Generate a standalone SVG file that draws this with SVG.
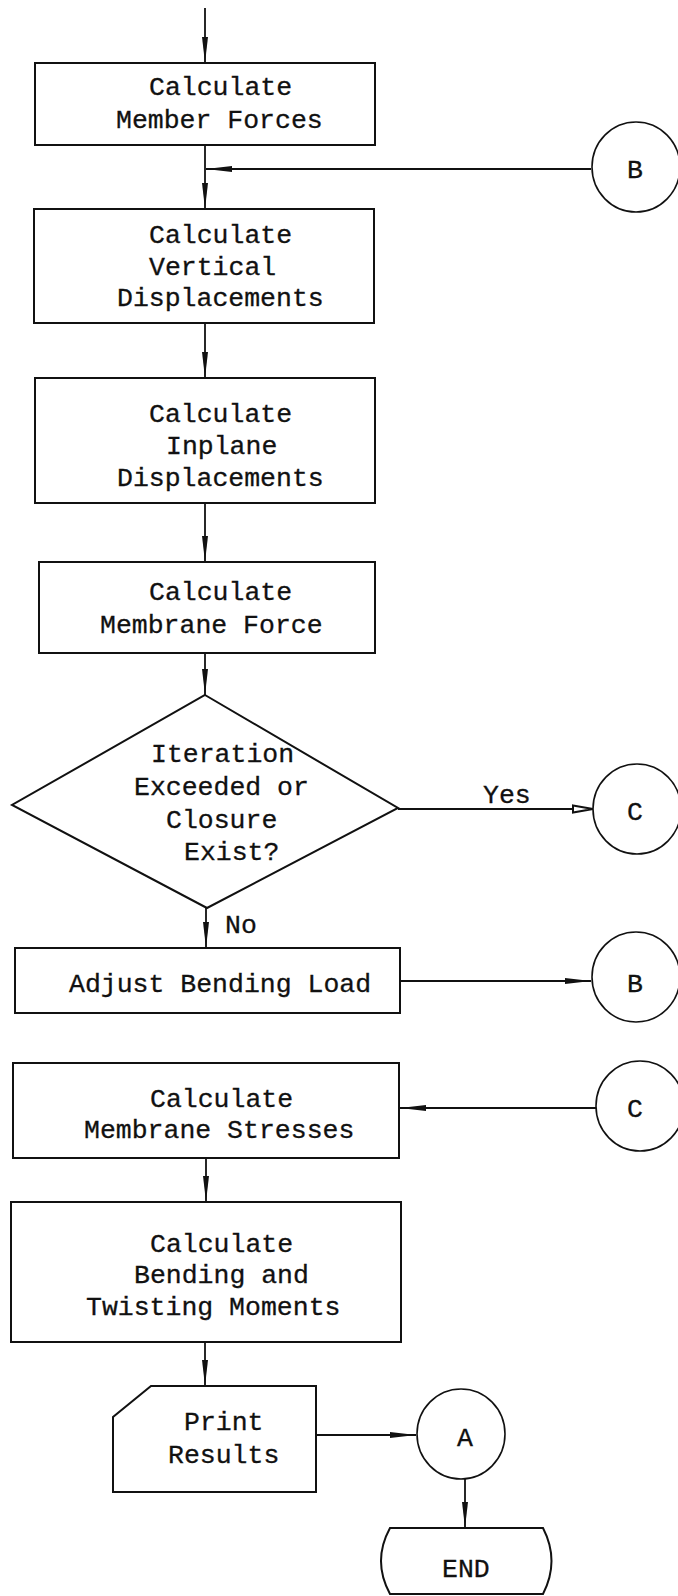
<svg xmlns="http://www.w3.org/2000/svg" width="678" height="1596" viewBox="0 0 678 1596">
<style>
.s{fill:none;stroke:#111;stroke-width:2}
.c{fill:#fff;stroke:#111;stroke-width:1.6}
.t{font-family:"Liberation Mono",monospace;font-size:26.5px;fill:#111;stroke:#111;stroke-width:0.3}
.l{fill:none;stroke:#111;stroke-width:1.8}
</style>
<defs>
<marker id="ahl" viewBox="0 0 26 8" refX="26" refY="4" markerWidth="26" markerHeight="8" markerUnits="userSpaceOnUse" orient="auto"><path d="M0,1 L26,4 L0,7 Z" fill="#111"/></marker>
<marker id="aho" viewBox="0 0 22 10" refX="21" refY="5" markerWidth="22" markerHeight="10" markerUnits="userSpaceOnUse" orient="auto"><path d="M1,1.5 L21,5 L1,8.5 Z" fill="#fff" stroke="#111" stroke-width="2"/></marker>
</defs>
<g id="connectors">
<line class="l" x1="205" y1="8" x2="205" y2="63" marker-end="url(#ahl)"/>
<line class="l" x1="205" y1="145" x2="205" y2="209" marker-end="url(#ahl)"/>
<line class="l" x1="591" y1="169" x2="206" y2="169" marker-end="url(#ahl)"/>
<line class="l" x1="205" y1="323" x2="205" y2="378" marker-end="url(#ahl)"/>
<line class="l" x1="205" y1="503" x2="205" y2="562" marker-end="url(#ahl)"/>
<line class="l" x1="205" y1="653" x2="205" y2="695" marker-end="url(#ahl)"/>
<line class="l" x1="398" y1="809" x2="593" y2="809" marker-end="url(#aho)"/>
<line class="l" x1="206" y1="908" x2="206" y2="948" marker-end="url(#ahl)"/>
<line class="l" x1="401" y1="981" x2="591" y2="981" marker-end="url(#ahl)"/>
<line class="l" x1="596" y1="1108" x2="400" y2="1108" marker-end="url(#ahl)"/>
<line class="l" x1="206" y1="1158" x2="206" y2="1202" marker-end="url(#ahl)"/>
<line class="l" x1="205" y1="1342" x2="205" y2="1386" marker-end="url(#ahl)"/>
<line class="l" x1="316" y1="1435" x2="416" y2="1435" marker-end="url(#ahl)"/>
<line class="l" x1="465" y1="1479" x2="465" y2="1528" marker-end="url(#ahl)"/>
<text class="t" x="483" y="803">Yes</text>
<text class="t" x="225" y="933">No</text>
</g>
<g id="n1"><rect class="s" x="35" y="63" width="340" height="82"/>
<text class="t" x="149" y="95">Calculate</text><text class="t" x="116" y="128">Member Forces</text></g>
<g id="cB1"><ellipse class="c" cx="636" cy="167" rx="44" ry="45"/><text class="t" x="627" y="178">B</text></g>
<g id="n2"><rect class="s" x="34" y="209" width="340" height="114"/>
<text class="t" x="149" y="243">Calculate</text><text class="t" x="149" y="275">Vertical</text><text class="t" x="117" y="306">Displacements</text></g>
<g id="n3"><rect class="s" x="35" y="378" width="340" height="125"/>
<text class="t" x="149" y="422">Calculate</text><text class="t" x="166" y="454">Inplane</text><text class="t" x="117" y="486">Displacements</text></g>
<g id="n4"><rect class="s" x="39" y="562" width="336" height="91"/>
<text class="t" x="149" y="600">Calculate</text><text class="t" x="100" y="633">Membrane Force</text></g>
<g id="d1"><polygon class="s" points="205,695 398,808 207,908 12,805"/>
<text class="t" x="151" y="762">Iteration</text><text class="t" x="134" y="795">Exceeded or</text><text class="t" x="166" y="828">Closure</text><text class="t" x="184" y="860">Exist?</text></g>
<g id="cC1"><ellipse class="c" cx="637" cy="809" rx="44" ry="45"/><text class="t" x="627" y="820">C</text></g>
<g id="n5"><rect class="s" x="15" y="948" width="385" height="65"/>
<text class="t" x="69" y="992">Adjust Bending Load</text></g>
<g id="cB2"><ellipse class="c" cx="636" cy="977" rx="44" ry="45"/><text class="t" x="627" y="992">B</text></g>
<g id="n6"><rect class="s" x="13" y="1063" width="386" height="95"/>
<text class="t" x="150" y="1107">Calculate</text><text class="t" x="84" y="1138">Membrane Stresses</text></g>
<g id="cC2"><ellipse class="c" cx="640" cy="1106" rx="44" ry="45"/><text class="t" x="627" y="1117">C</text></g>
<g id="n7"><rect class="s" x="11" y="1202" width="390" height="140"/>
<text class="t" x="150" y="1252">Calculate</text><text class="t" x="134" y="1283">Bending and</text><text class="t" x="86" y="1315">Twisting Moments</text></g>
<g id="n8"><polygon class="s" points="151,1386 316,1386 316,1492 113,1492 113,1417"/>
<text class="t" x="184" y="1430">Print</text><text class="t" x="168" y="1463">Results</text></g>
<g id="cA"><ellipse class="c" cx="461" cy="1434" rx="44" ry="45"/><text class="t" x="457" y="1446">A</text></g>
<g id="end"><path class="s" d="M390,1528 L543,1528 Q560,1561 543,1594 L390,1594 Q372,1561 390,1528 Z"/>
<text class="t" x="442" y="1577">END</text></g>
</svg>
